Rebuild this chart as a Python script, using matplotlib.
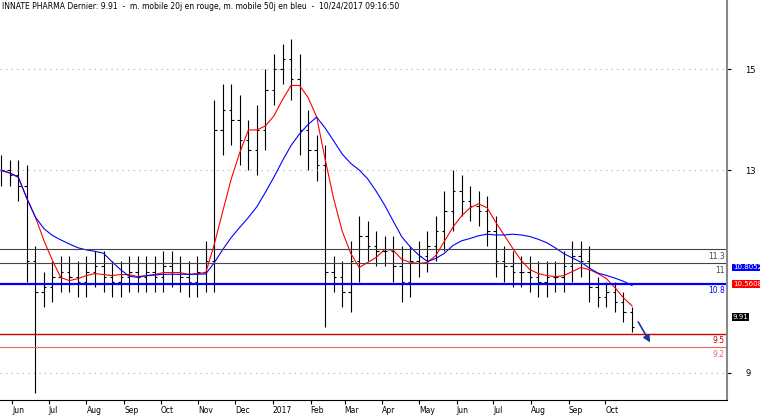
import matplotlib
matplotlib.use("Agg")
import matplotlib.pyplot as plt
import numpy as np
import pandas as pd

weeks = pd.date_range("2016-05-23", periods=75, freq="7D")
closes = [13.0,12.9,12.7,11.2,10.6,10.7,10.9,11.0,10.9,10.8,11.0,11.1,10.9,10.8,10.9,11.0,10.9,11.0,10.9,11.1,
          11.0,10.9,10.8,11.0,11.2,13.8,14.2,14.0,13.6,13.4,13.8,14.6,15.0,15.2,14.8,13.8,13.4,13.1,11.0,10.9,
          10.6,11.2,11.7,11.5,11.4,11.4,11.1,10.8,11.2,11.3,11.5,11.8,12.2,12.6,12.4,12.3,12.2,11.8,11.2,11.1,
          11.0,11.0,10.9,10.8,10.9,10.9,11.1,11.3,11.2,10.7,10.5,10.6,10.4,10.2,9.91]
extra = [0.3,0.2,0.3,0.4,0.3,0.3,0.3,0.3,0.3,0.3,0.3,0.3,0.3,0.3,0.3,0.3,0.3,0.3,0.3,0.3,
         0.3,0.3,0.3,0.3,0.4,0.6,0.5,0.5,0.5,0.4,0.5,0.4,0.3,0.3,0.4,0.5,0.4,0.3,0.4,0.3,
         0.3,0.4,0.4,0.3,0.3,0.3,0.3,0.4,0.3,0.3,0.3,0.3,0.4,0.4,0.3,0.3,0.3,0.3,0.3,0.3,
         0.3,0.3,0.3,0.3,0.3,0.3,0.3,0.3,0.3,0.3,0.2,0.2,0.2,0.2,0.1]
spike_lows = {4: 8.6, 38: 9.9}
levels = [11.44, 11.16, 10.76, 9.77, 9.5]
level_labels = ["11.3", "11", "10.8", "9.5", "9.2"]
level_colors = ["#444444", "#444444", "blue", "#cc0000", "#ee6666"]
level_widths = [0.8, 0.8, 1.6, 1.0, 0.8]
month_starts = pd.date_range("2016-06-01", "2017-10-01", freq="MS")
month_labels = ["Jun","Jul","Aug","Sep","Oct","Nov","Dec","2017","Feb","Mar","Apr","May","Jun","Jul","Aug","Sep","Oct"]

fig = plt.figure(figsize=(7.6, 4.15), dpi=100)
ax = fig.add_axes([0, 0.035, 727/760, 0.965])
c = np.array(closes)
o = np.r_[c[0], c[:-1]]
hi = np.maximum(o, c) + np.array(extra)
lo = np.minimum(o, c) - np.array(extra)
for k, v in spike_lows.items():
    lo[k] = v
ax.vlines(weeks, lo, hi, color="black", lw=0.8)
off = pd.Timedelta(days=2)
ax.hlines(o, weeks - off, weeks, color="black", lw=0.8)
ax.hlines(c, weeks, weeks + off, color="black", lw=0.8)

s = pd.Series(c, index=weeks)
ax.plot(weeks, s.rolling(5, min_periods=1).mean(), color="red", lw=0.8)
ax.plot(weeks, s.rolling(13, min_periods=1).mean(), color="blue", lw=0.8)

xmax = pd.Timestamp("2018-01-09")
for v, lab, col, w in zip(levels, level_labels, level_colors, level_widths):
    ax.axhline(v, color=col, lw=w)
    ax.text(pd.Timestamp("2018-01-07"), v - 0.05, lab, color=col, fontsize=5.5, ha="right", va="top")

ax.annotate("", xy=(pd.Timestamp("2017-11-08"), 9.55), xytext=(pd.Timestamp("2017-10-27"), 10.05),
            arrowprops=dict(arrowstyle="-|>", color="#1a3a9a", lw=1.2))

for v in [9, 13, 15]:
    ax.axhline(v, color="#aaaaaa", lw=0.8, ls=(0, (1, 4)))
ax.set_xlim(pd.Timestamp("2016-05-22"), xmax)
ax.set_ylim(8.45, 16.37)
ax.yaxis.tick_right()
ax.set_yticks([9, 13, 15])
ax.set_yticklabels(["9", "13", "15"], fontsize=6)
ax.set_xticks(month_starts)
ax.set_xticklabels(month_labels, fontsize=5.5, ha="left")
ax.tick_params(axis="x", length=3, pad=1)
ax.tick_params(axis="y", length=3, pad=10)
for sp in ["top", "left"]:
    ax.spines[sp].set_visible(False)
ax.spines["right"].set_color("#888888")
ax.spines["right"].set_linewidth(1.5)

for val, txt, fc in [(11.08, "10.8052", "blue"), (10.76, "10.5608", "red"), (10.1, "9.91", "black")]:
    ax.text(1.008, (val - 8.45) / (16.37 - 8.45), txt, transform=ax.transAxes, fontsize=5, color="white",
            va="center", ha="left", bbox=dict(boxstyle="square,pad=0.12", fc=fc, ec="none"), clip_on=False)

ax.text(0.003, 0.995, "INNATE PHARMA Dernier: 9.91  -  m. mobile 20j en rouge, m. mobile 50j en bleu  -  10/24/2017 09:16:50",
        transform=ax.transAxes, fontsize=5.5, va="top", ha="left")
fig.savefig("out.png", dpi=100)
